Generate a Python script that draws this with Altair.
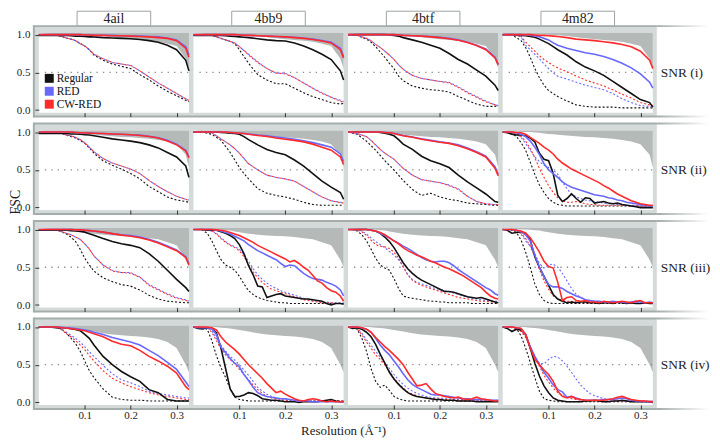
import altair as alt
import pandas as pd

SERIF = "Liberation Serif"
W, H = 151, 80
X_DOMAIN = [0.0, 0.327]
Y_DOMAIN = [-0.033, 1.02]
X_TICKS = [0.1, 0.2, 0.3]
Y_TICKS = [0.0, 0.5, 1.0]
HALF_X = [0.013, 0.327]
HALF_Y = [0.5, 0.5]

COLS = ["4ail", "4bb9", "4btf", "4m82"]
ROWS = ["SNR (i)", "SNR (ii)", "SNR (iii)", "SNR (iv)"]
METHODS = ["Regular", "RED", "CW-RED"]
COLORS = ["#111111", "#6868ff", "#ff2a2a"]
X_TITLE = "Resolution (Å⁻¹)"
Y_TITLE = "FSC"

BAND_FILL = "#d4dad9"
BAND_EDGE = "#a5adab"
BOUND_FILL = "#b5bab8"

# coarse and fine resolution grids (1/Å)
X_C = [0.0, 0.02, 0.04, 0.05, 0.06, 0.07, 0.08, 0.09, 0.10, 0.11, 0.12, 0.14, 0.16, 0.18, 0.20, 0.22, 0.24, 0.26, 0.28, 0.30, 0.32, 0.327]
X_F = [0.0, 0.01, 0.02, 0.03, 0.04, 0.05, 0.06, 0.07, 0.08, 0.09, 0.10, 0.11, 0.12, 0.13, 0.14, 0.15, 0.16, 0.17, 0.18, 0.19,
       0.20, 0.21, 0.22, 0.23, 0.24, 0.25, 0.26, 0.27, 0.28, 0.29, 0.30, 0.31, 0.32, 0.327]

# upper-bound (grey) curves per SNR level, on X_C
B_i = [1.02, 1.01, 1, 1, 1, 1, 1, 1, .995, .99, .99, .98, .965, .95, .94, .93, .92, .905, .88, .85, .68, .55]
B_ii = [1.02, 1.01, 1, 1, 1, .995, .99, .98, .975, .97, .965, .955, .945, .935, .93, .92, .91, .895, .875, .84, .70, .53]
B_iii = [1.02, 1.01, 1, 1, .995, .99, .985, .975, .965, .955, .945, .93, .92, .915, .91, .90, .885, .87, .83, .79, .60, .50]
B_iv = [1.02, 1.01, 1, .995, .99, .985, .98, .97, .96, .95, .94, .915, .90, .89, .88, .875, .86, .84, .80, .72, .50, .40]

# ---- SNR (i) ----
ail_i_reg = [.99, .99, .99, .99, .99, .985, .98, .98, .975, .97, .97, .96, .955, .95, .945, .935, .92, .90, .86, .80, .66, .52]
ail_i_red = [1, 1, 1, 1, 1, 1, 1, 1, .995, .995, .99, .99, .99, .985, .985, .98, .975, .97, .955, .93, .84, .73]
ail_i_cw = [1, 1, 1, 1, 1, 1, 1, 1, .995, .995, .99, .99, .985, .985, .98, .975, .97, .96, .95, .92, .82, .70]
ail_i_regd = [1, 1, .99, .975, .955, .94, .92, .88, .85, .80, .73, .66, .61, .58, .55, .47, .40, .32, .25, .19, .13, .11]
ail_i_redd = [1, 1, .99, .975, .955, .94, .92, .885, .85, .80, .74, .68, .63, .61, .595, .52, .44, .36, .29, .22, .15, .13]
ail_i_cwd = [1, 1, .99, .975, .955, .94, .92, .88, .85, .80, .74, .68, .63, .61, .59, .52, .44, .36, .29, .22, .15, .13]

bb9_i_reg = [.99, .99, .99, .99, .99, .985, .98, .975, .97, .965, .96, .945, .93, .92, .915, .89, .85, .80, .74, .67, .52, .40]
bb9_i_red = [1, 1, 1, 1, 1, 1, 1, 1, .995, .99, .99, .985, .98, .975, .97, .965, .955, .94, .92, .90, .82, .71]
bb9_i_cw = [1, 1, 1, 1, 1, 1, 1, 1, .995, .99, .99, .985, .98, .975, .97, .96, .95, .935, .915, .89, .80, .69]
bb9_i_regd = [1, 1, .99, .97, .95, .93, .91, .88, .80, .71, .62, .47, .40, .35, .35, .29, .23, .18, .14, .10, .08, .09]
bb9_i_redd = [1, 1, .99, .97, .95, .93, .91, .89, .84, .79, .74, .64, .55, .49, .49, .43, .36, .29, .23, .17, .13, .11]
bb9_i_cwd = [1, 1, .99, .97, .95, .93, .91, .89, .84, .79, .73, .63, .55, .49, .48, .43, .36, .29, .22, .17, .12, .10]

btf_i_reg = [1, 1, 1, 1, 1, 1, 1, .995, .99, .98, .96, .93, .90, .86, .82, .75, .67, .61, .53, .45, .33, .26]
btf_i_red = [1, 1, 1, 1, 1, 1, 1, 1, 1, .995, .99, .985, .98, .975, .965, .95, .93, .90, .86, .81, .70, .61]
btf_i_cw = [1, 1, 1, 1, 1, 1, 1, 1, 1, .995, .99, .985, .98, .97, .96, .945, .925, .895, .855, .80, .69, .60]
btf_i_regd = [1, .99, .94, .90, .84, .77, .70, .62, .55, .45, .39, .32, .29, .27, .26, .24, .18, .13, .08, .05, .05, .06]
btf_i_redd = [1, .99, .95, .92, .87, .83, .78, .73, .67, .60, .54, .46, .42, .40, .38, .37, .31, .24, .18, .12, .07, .06]
btf_i_cwd = [1, .99, .95, .92, .87, .83, .78, .73, .67, .60, .54, .46, .42, .40, .38, .36, .30, .23, .17, .11, .07, .06]

m82_i_reg = [1, 1, .99, .985, .975, .965, .94, .91, .88, .84, .80, .73, .64, .57, .52, .46, .38, .30, .22, .14, .10, .04]
m82_i_red = [1, 1, 1, .995, .99, .985, .97, .95, .93, .89, .86, .82, .79, .76, .74, .71, .67, .62, .56, .48, .37, .29]
m82_i_cw = [1, 1, 1, 1, 1, .995, .99, .99, .985, .98, .975, .96, .94, .93, .92, .905, .89, .87, .84, .78, .66, .55]
m82_i_regd = [1, 1, .92, .83, .70, .55, .43, .33, .26, .22, .18, .12, .07, .05, .04, .04, .04, .03, .03, .03, .03, .03]
m82_i_redd = [1, 1, .97, .86, .80, .74, .68, .61, .55, .49, .45, .41, .37, .33, .30, .27, .22, .15, .10, .06, .05, .04]
m82_i_cwd = [1, 1, .98, .90, .84, .78, .72, .67, .63, .59, .56, .51, .45, .40, .36, .32, .27, .21, .16, .10, .07, .06]

# ---- SNR (ii) ----
ail_ii_reg = [.98, .98, .98, .98, .98, .975, .975, .97, .965, .96, .95, .93, .91, .895, .88, .86, .83, .79, .73, .67, .55, .40]
ail_ii_red = [1, 1, 1, 1, 1, 1, .995, .99, .99, .99, .985, .98, .975, .97, .965, .96, .945, .925, .89, .84, .76, .67]
ail_ii_cw = [1, 1, 1, 1, 1, 1, .995, .99, .99, .985, .985, .98, .975, .97, .965, .955, .94, .92, .88, .83, .75, .66]
ail_ii_regd = [1, 1, .99, .98, .96, .94, .92, .89, .85, .79, .72, .62, .56, .51, .45, .38, .28, .21, .14, .10, .08, .07]
ail_ii_redd = [1, 1, .99, .98, .96, .95, .93, .90, .86, .80, .74, .65, .59, .55, .51, .45, .36, .28, .21, .15, .11, .10]
ail_ii_cwd = [1, 1, .99, .98, .96, .95, .93, .90, .86, .80, .74, .65, .59, .55, .51, .45, .36, .28, .21, .15, .11, .09]

bb9_ii_reg = [1, 1, 1, 1, .995, .99, .985, .98, .97, .94, .90, .83, .77, .73, .70, .63, .55, .45, .35, .27, .20, .11]
bb9_ii_red = [1, 1, 1, 1, 1, 1, .995, .99, .985, .98, .975, .96, .95, .935, .92, .905, .885, .86, .83, .80, .71, .61]
bb9_ii_cw = [1, 1, 1, 1, 1, 1, .995, .99, .985, .98, .97, .955, .94, .92, .905, .89, .87, .84, .80, .76, .67, .57]
bb9_ii_regd = [1, 1, .97, .93, .89, .81, .73, .63, .53, .45, .38, .25, .19, .16, .14, .11, .07, .04, .03, .03, .03, .03]
bb9_ii_redd = [1, 1, .99, .95, .91, .87, .83, .78, .72, .65, .58, .50, .43, .40, .38, .35, .28, .21, .14, .09, .07, .06]
bb9_ii_cwd = [1, 1, .99, .95, .91, .87, .83, .78, .72, .65, .58, .50, .43, .40, .38, .35, .28, .21, .14, .09, .065, .06]

btf_ii_reg = [1, 1, 1, 1, 1, .995, .985, .97, .95, .90, .84, .77, .68, .62, .58, .53, .43, .34, .26, .18, .08, .07]
btf_ii_red = [1, 1, 1, 1, 1, 1, .995, .99, .98, .97, .955, .935, .91, .89, .87, .855, .83, .79, .74, .68, .54, .44]
btf_ii_cw = [1, 1, 1, 1, 1, 1, .995, .99, .98, .965, .95, .93, .905, .885, .865, .85, .82, .78, .73, .67, .52, .42]
btf_ii_regd = [1, .97, .88, .82, .76, .69, .62, .56, .50, .43, .36, .24, .16, .19, .14, .11, .09, .06, .05, .04, .03, .03]
btf_ii_redd = [1, .98, .94, .89, .83, .77, .72, .68, .64, .58, .52, .43, .37, .35, .33, .30, .25, .15, .08, .05, .04, .04]
btf_ii_cwd = [1, .98, .94, .89, .83, .77, .72, .68, .64, .58, .52, .43, .37, .35, .33, .29, .24, .15, .08, .05, .04, .04]

m82_ii_reg = [1, .99, .97, .96, .96, .95, .92, .87, .72, .64, .62, .45, .16, .08, .12, .18, .12, .07, .13, .12,
              .06, .07, .08, .06, .05, .06, .04, .03, .02, .01, 0, 0, 0, 0]
m82_ii_red = [1, 1, 1, .99, .97, .94, .88, .80, .70, .58, .50, .45, .40, .34, .30, .27, .25, .23, .21, .19,
              .17, .16, .15, .13, .12, .10, .09, .07, .06, .05, .04, .03, .02, .02]
m82_ii_cw = [1, 1, 1, .995, .99, .97, .93, .89, .85, .80, .76, .71, .64, .59, .55, .51, .48, .45, .42, .39,
             .36, .33, .29, .26, .22, .18, .15, .12, .09, .07, .05, .04, .03, .03]
m82_ii_regd = [1, 1, .98, .94, .86, .76, .60, .44, .30, .20, .12, .07, .04, .03, .02, .02, .02, .02, .02, .02,
               .02, .02, .02, .02, .02, .02, .02, .02, .02, .02, .02, .02, .02, .02]
m82_ii_redd = [1, 1, .99, .97, .93, .85, .76, .67, .61, .56, .53, .50, .44, .34, .25, .18, .14, .12, .10, .09,
               .08, .07, .06, .05, .05, .04, .04, .03, .03, .03, .02, .02, .02, .02]
m82_ii_cwd = [1, 1, .99, .97, .94, .88, .78, .66, .52, .40, .29, .20, .13, .09, .07, .07, .08, .07, .05, .04,
              .04, .03, .03, .03, .03, .03, .03, .03, .02, .02, .02, .02, .02, .02]

# ---- SNR (iii) ----
ail_iii_reg = [.99, .99, .99, .99, .99, .985, .98, .975, .965, .945, .925, .88, .84, .81, .79, .76, .68, .58, .46, .34, .23, .18]
ail_iii_red = [1, 1, 1, 1, 1, 1, .995, .995, .99, .985, .98, .965, .945, .93, .92, .90, .87, .83, .78, .73, .64, .55]
ail_iii_cw = [1, 1, 1, 1, 1, 1, .995, .995, .99, .985, .98, .965, .945, .925, .91, .89, .86, .82, .77, .72, .63, .53]
ail_iii_regd = [1, 1, .99, .97, .94, .90, .84, .74, .62, .53, .45, .36, .31, .27, .25, .20, .13, .08, .05, .04, .03, .03]
ail_iii_redd = [1, 1, .99, .97, .95, .93, .90, .87, .81, .74, .65, .53, .46, .43, .43, .37, .27, .21, .15, .10, .07, .05]
ail_iii_cwd = [1, 1, .99, .97, .95, .93, .90, .87, .81, .74, .65, .53, .45, .43, .42, .37, .26, .20, .14, .09, .06, .05]

bb9_iii_reg = [1, 1, 1, .99, .99, .99, .97, .95, .92, .88, .80, .68, .52, .40, .25, .24, .10, .12, .14, .15,
               .12, .11, .10, .09, .08, .08, .07, .06, .05, .02, 0, .02, .02, .01]
bb9_iii_red = [1, 1, 1, 1, 1, .99, .98, .96, .94, .91, .88, .85, .80, .76, .72, .69, .66, .63, .60, .55,
               .51, .53, .52, .47, .42, .38, .35, .34, .33, .30, .28, .25, .20, .12]
bb9_iii_cw = [1, 1, 1, 1, 1, .995, .99, .98, .96, .94, .92, .89, .86, .83, .79, .76, .73, .70, .67, .64,
              .61, .57, .59, .55, .50, .46, .39, .32, .29, .23, .19, .17, .12, .05]
bb9_iii_regd = [1, 1, .99, .95, .85, .72, .60, .53, .50, .46, .38, .28, .19, .14, .10, .08, .06, .05, .04, .03,
                .03, .02, .02, .02, .02, .02, .02, .02, .02, .02, .02, .02, .02, .02]
bb9_iii_redd = [1, 1, 1, .99, .98, .95, .89, .84, .80, .77, .74, .67, .58, .48, .40, .34, .29, .25, .22, .19,
                .17, .15, .13, .11, .09, .07, .06, .05, .04, .04, .03, .03, .03, .03]
bb9_iii_cwd = [1, 1, 1, .99, .98, .94, .88, .83, .79, .76, .72, .64, .54, .44, .36, .30, .25, .21, .19, .17,
               .15, .13, .11, .09, .07, .06, .05, .04, .03, .03, .03, .02, .02, .02]

btf_iii_reg = [1, 1, 1, 1, 1, .99, .98, .95, .90, .84, .76, .66, .56, .48, .42, .37, .33, .30, .27, .24,
               .21, .18, .18, .17, .15, .13, .11, .10, .09, .10, .08, .06, .04, .03]
btf_iii_red = [1, 1, 1, 1, 1, .99, .98, .95, .92, .89, .85, .82, .78, .75, .71, .67, .63, .60, .58, .57,
               .58, .58, .56, .52, .47, .43, .39, .35, .31, .27, .23, .20, .15, .13]
btf_iii_cw = [1, 1, 1, 1, 1, .99, .98, .96, .93, .89, .85, .81, .76, .72, .69, .66, .64, .61, .58, .56,
              .53, .50, .48, .45, .42, .39, .35, .31, .27, .23, .17, .12, .09, .08]
btf_iii_regd = [1, 1, .98, .93, .85, .74, .62, .53, .49, .46, .35, .22, .12, .10, .09, .08, .07, .06, .05, .05,
                .04, .04, .03, .03, .03, .03, .03, .02, .02, .02, .02, .02, .02, .02]
btf_iii_redd = [1, 1, 1, .98, .94, .89, .84, .80, .76, .71, .66, .60, .52, .40, .34, .30, .28, .26, .24, .22,
                .21, .19, .18, .16, .14, .12, .10, .09, .08, .07, .06, .05, .05, .05]
btf_iii_cwd = [1, 1, .99, .97, .92, .86, .80, .78, .77, .75, .70, .62, .50, .40, .33, .29, .26, .24, .22, .20,
               .18, .16, .14, .12, .10, .09, .08, .07, .06, .05, .05, .04, .04, .04]

m82_iii_reg = [1, .99, .95, .96, .97, .95, .86, .64, .50, .38, .26, .14, .08, .05, .03, .04, .03, .04, .04, .03,
               .03, .02, .03, .03, .02, .04, .03, .02, .03, .02, .02, .03, .02, .02]
m82_iii_red = [1, 1, 1, .99, .97, .93, .85, .66, .50, .38, .27, .24, .24, .22, .18, .15, .12, .10, .07, .06,
               .05, .05, .04, .04, .05, .04, .04, .03, .04, .05, .04, .03, .04, .03]
m82_iii_cw = [1, 1, 1, .99, .98, .95, .89, .80, .70, .58, .51, .49, .30, .06, .10, .11, .06, .05, .06, .04,
              .04, .03, .05, .04, .03, .04, .05, .04, .03, .05, .06, .03, .03, .03]
m82_iii_regd = [1, 1, .99, .96, .86, .70, .50, .28, .14, .06, .03, .02, .02, .02, .02, .02, .02, .02, .02, .02,
                .02, .02, .02, .02, .02, .02, .02, .02, .02, .02, .02, .02, .02, .02]
m82_iii_redd = [1, 1, 1, .98, .94, .85, .78, .68, .55, .49, .53, .54, .50, .42, .32, .22, .14, .10, .07, .06,
                .05, .05, .04, .04, .04, .03, .03, .03, .03, .03, .03, .03, .03, .03]
m82_iii_cwd = [1, 1, 1, .99, .95, .88, .78, .64, .47, .32, .21, .12, .08, .06, .05, .05, .04, .04, .03, .03,
               .03, .03, .03, .03, .03, .03, .03, .03, .02, .02, .02, .02, .02, .02]

# ---- SNR (iv) ----
ail_iv_reg = [1, 1, .99, .99, .985, .975, .965, .95, .90, .85, .76, .61, .50, .41, .34, .28, .17, .13, .04, .02, .02, .02]
ail_iv_red = [1, 1, 1, .995, .99, .985, .98, .97, .96, .95, .93, .90, .86, .83, .80, .76, .69, .62, .53, .44, .27, .21]
ail_iv_cw = [1, 1, 1, .99, .985, .975, .97, .96, .95, .93, .91, .87, .81, .77, .75, .69, .61, .55, .48, .39, .21, .17]
ail_iv_regd = [1, 1, .99, .97, .92, .85, .78, .68, .55, .42, .33, .18, .07, .04, .03, .03, .02, .02, .02, .02, .02, .02]
ail_iv_redd = [1, 1, .99, .97, .93, .89, .85, .80, .74, .67, .61, .49, .38, .30, .26, .21, .15, .12, .10, .08, .06, .06]
ail_iv_cwd = [1, 1, .99, .96, .91, .87, .82, .76, .70, .62, .55, .42, .32, .26, .21, .17, .13, .10, .08, .06, .04, .04]

bb9_iv_reg = [1, .98, .975, .99, .98, .92, .72, .45, .18, .08, .08, .10, .13, .12, .09, .05, .04, .03, .03, .02,
              .01, .01, .01, 0, .01, .01, .01, .01, .02, .03, .04, .02, .01, .01]
bb9_iv_red = [1, .99, .99, .99, .98, .90, .73, .66, .58, .52, .47, .37, .29, .20, .13, .10, .08, .07, .06, .05,
              .05, .04, .03, .02, .02, .02, .01, .01, .01, .01, .01, .01, .01, .01]
bb9_iv_cw = [1, 1, 1, 1, .99, .96, .87, .80, .75, .70, .64, .57, .50, .44, .38, .32, .25, .19, .13, .15,
             .11, .08, .05, .03, .02, .04, .05, .04, .02, .01, .02, .01, .01, .01]
bb9_iv_regd = [1, 1, .99, .97, .82, .62, .46, .33, .18, .07, .04, .03, .02, .02, .02, .02, .02, .02, .02, .02,
               .02, .02, .02, .02, .02, .02, .02, .02, .02, .02, .02, .02, .02, .02]
bb9_iv_redd = [1, 1, 1, .99, .95, .85, .76, .68, .61, .56, .50, .43, .36, .28, .20, .15, .11, .08, .06, .05,
               .04, .03, .03, .02, .02, .02, .02, .02, .02, .02, .02, .02, .02, .02]
bb9_iv_cwd = [1, 1, 1, .99, .93, .82, .71, .63, .57, .51, .44, .37, .30, .23, .17, .12, .08, .06, .05, .04,
              .03, .02, .02, .02, .02, .02, .02, .02, .02, .02, .02, .02, .02, .02]

btf_iv_reg = [1, .98, .99, .97, .93, .87, .77, .64, .52, .40, .31, .24, .18, .13, .10, .08, .07, .06, .05, .04,
              .04, .03, .03, .03, .02, .02, .02, .02, .01, .01, .01, .01, .01, .01]
btf_iv_red = [1, 1, 1, .99, .97, .93, .85, .76, .69, .63, .55, .47, .38, .30, .24, .20, .17, .14, .11, .10,
              .10, .09, .08, .07, .06, .05, .05, .04, .04, .04, .04, .03, .03, .03]
btf_iv_cw = [1, 1, 1, .99, .97, .93, .86, .80, .74, .69, .63, .57, .50, .40, .31, .22, .23, .25, .18, .12,
             .10, .08, .07, .06, .07, .05, .04, .05, .07, .05, .04, .03, .02, .02]
btf_iv_regd = [1, 1, .97, .85, .68, .45, .28, .20, .23, .16, .08, .05, .03, .02, .02, .02, .02, .02, .02, .02,
               .02, .02, .02, .02, .02, .02, .02, .02, .02, .02, .02, .02, .02, .02]
btf_iv_redd = [1, 1, .98, .92, .83, .76, .68, .60, .53, .45, .37, .30, .24, .19, .15, .12, .10, .08, .07, .06,
               .06, .05, .05, .04, .04, .04, .03, .03, .03, .03, .03, .03, .03, .03]
btf_iv_cwd = [1, 1, .97, .90, .80, .72, .63, .57, .50, .41, .32, .25, .19, .14, .11, .09, .07, .06, .05, .05,
              .04, .04, .03, .03, .03, .03, .02, .02, .02, .02, .02, .02, .02, .02]

m82_iv_reg = [1, .98, .94, .97, .96, .90, .72, .52, .35, .22, .13, .06, .03, .02, .01, .01, .01, .01, .02, .02,
              .03, .02, .01, .01, .02, .02, .03, .02, .01, .01, .01, .01, .01, 0]
m82_iv_red = [1, 1, 1, .99, .98, .89, .74, .61, .50, .40, .32, .23, .17, .14, .07, .08, .06, .04, .03, .03,
              .03, .03, .04, .04, .04, .05, .06, .05, .03, .02, .02, .01, .01, .01]
m82_iv_cw = [1, 1, 1, .99, .98, .90, .72, .57, .50, .43, .37, .28, .15, .08, .06, .08, .05, .04, .03, .03,
             .03, .03, .03, .04, .05, .07, .08, .06, .04, .03, .02, .02, .01, .01]
m82_iv_regd = [1, 1, .99, .98, .88, .72, .53, .33, .15, .05, .03, .02, .01, .01, .01, .01, .01, .01, .01, .01,
               .01, .01, .01, .01, .01, .01, .01, .01, .01, .01, .01, .01, .01, .01]
m82_iv_redd = [1, 1, 1, .99, .97, .90, .70, .60, .52, .51, .57, .61, .60, .55, .48, .40, .31, .23, .17, .12,
               .09, .07, .05, .04, .04, .03, .02, .02, .02, .02, .02, .02, .02, .02]
m82_iv_cwd = [1, 1, 1, .98, .94, .86, .74, .61, .48, .36, .27, .19, .13, .09, .07, .05, .04, .03, .03, .02,
              .02, .02, .02, .02, .02, .02, .02, .02, .02, .02, .02, .02, .02, .02]

BOUNDS = [B_i, B_ii, B_iii, B_iv]
PANELS = [
    [(ail_i_reg, ail_i_red, ail_i_cw, ail_i_regd, ail_i_redd, ail_i_cwd),
     (bb9_i_reg, bb9_i_red, bb9_i_cw, bb9_i_regd, bb9_i_redd, bb9_i_cwd),
     (btf_i_reg, btf_i_red, btf_i_cw, btf_i_regd, btf_i_redd, btf_i_cwd),
     (m82_i_reg, m82_i_red, m82_i_cw, m82_i_regd, m82_i_redd, m82_i_cwd)],
    [(ail_ii_reg, ail_ii_red, ail_ii_cw, ail_ii_regd, ail_ii_redd, ail_ii_cwd),
     (bb9_ii_reg, bb9_ii_red, bb9_ii_cw, bb9_ii_regd, bb9_ii_redd, bb9_ii_cwd),
     (btf_ii_reg, btf_ii_red, btf_ii_cw, btf_ii_regd, btf_ii_redd, btf_ii_cwd),
     (m82_ii_reg, m82_ii_red, m82_ii_cw, m82_ii_regd, m82_ii_redd, m82_ii_cwd)],
    [(ail_iii_reg, ail_iii_red, ail_iii_cw, ail_iii_regd, ail_iii_redd, ail_iii_cwd),
     (bb9_iii_reg, bb9_iii_red, bb9_iii_cw, bb9_iii_regd, bb9_iii_redd, bb9_iii_cwd),
     (btf_iii_reg, btf_iii_red, btf_iii_cw, btf_iii_regd, btf_iii_redd, btf_iii_cwd),
     (m82_iii_reg, m82_iii_red, m82_iii_cw, m82_iii_regd, m82_iii_redd, m82_iii_cwd)],
    [(ail_iv_reg, ail_iv_red, ail_iv_cw, ail_iv_regd, ail_iv_redd, ail_iv_cwd),
     (bb9_iv_reg, bb9_iv_red, bb9_iv_cw, bb9_iv_regd, bb9_iv_redd, bb9_iv_cwd),
     (btf_iv_reg, btf_iv_red, btf_iv_cw, btf_iv_regd, btf_iv_redd, btf_iv_cwd),
     (m82_iv_reg, m82_iv_red, m82_iv_cw, m82_iv_regd, m82_iv_redd, m82_iv_cwd)],
]

DUMMY = pd.DataFrame({"d": [0]})
COLOR_SCALE = alt.Scale(domain=METHODS, range=COLORS)


def curve_frame(vals, method):
    if len(vals) == len(X_F):
        xs = X_F
    elif len(vals) == len(X_C):
        xs = X_C
    else:
        raise ValueError(f"bad length {len(vals)} for {method}")
    return pd.DataFrame({"x": xs, "y": vals, "method": method})


def deco_rect(x1, x2, y1, y2, **kw):
    return alt.Chart(DUMMY).mark_rect(**kw).encode(
        x=alt.value(x1), x2=alt.value(x2), y=alt.value(y1), y2=alt.value(y2))


def legend_layer():
    leg = pd.DataFrame({"method": METHODS})
    ypos = alt.Y("method:N", scale=alt.Scale(type="point", domain=METHODS, range=[45.5, 71.5], padding=0),
                 axis=None)
    sq = alt.Chart(leg).mark_square(size=81, filled=True, opacity=1).encode(
        x=alt.value(10.5), y=ypos, color=alt.Color("method:N", scale=COLOR_SCALE, legend=None))
    tx = alt.Chart(leg).mark_text(align="left", baseline="middle", font=SERIF, fontSize=11.5,
                                  color="#111", dy=0.5).encode(
        x=alt.value(18), y=ypos, text="method:N")
    return alt.layer(sq, tx)


def panel(r, c):
    curves = PANELS[r][c]
    layers = []
    top, bot = -7, H + 4
    xl = -5 if c == 0 else -2.5
    xr = W + 4 if c == 3 else W + 2.5
    # grey row band
    layers.append(deco_rect(xl, xr, top, bot, fill=BAND_FILL))
    layers.append(deco_rect(0, W, 0, H, fill="white"))
    if r == 0:
        layers.append(deco_rect(W / 2 - 37, W / 2 + 37, -22, top, fill="white",
                                stroke="#9ca2a1", strokeWidth=1))
    layers.append(deco_rect(xl, xr, top - 1, top + 1, fill=BAND_EDGE))
    layers.append(deco_rect(xl, xr, bot - 1, bot + 1, fill=BAND_EDGE))
    if c == 0:
        layers.append(deco_rect(xl - 1, xl + 1, top - 1, bot + 1, fill=BAND_EDGE))
    if c == 3:
        grad = alt.LinearGradient(gradient="linear", x1=0, x2=1, y1=0, y2=0,
                                  stops=[alt.GradientStop(color=BAND_EDGE, offset=0),
                                         alt.GradientStop(color="#ffffff", offset=1)])
        layers.append(deco_rect(xr, W + 56, top - 1, top + 1, fill=grad))
        layers.append(deco_rect(xr, W + 56, bot - 1, bot + 1, fill=grad))

    x_axis = alt.Axis(values=X_TICKS, format=".1f", labels=(r == 3), tickSize=4, domain=False,
                      grid=False, title=None, labelPadding=1, zindex=1)
    y_axis = alt.Axis(values=Y_TICKS, format=".1f", tickSize=4, domain=False, grid=False,
                      title=None, labelPadding=5, zindex=1) if c == 0 else None
    X = alt.X("x:Q", scale=alt.Scale(domain=X_DOMAIN, nice=False, zero=False), axis=x_axis)
    Y = alt.Y("y:Q", scale=alt.Scale(domain=Y_DOMAIN, nice=False, zero=False), axis=y_axis)

    bdf = pd.DataFrame({"x": X_C, "y": BOUNDS[r], "top": Y_DOMAIN[1]})
    layers.append(alt.Chart(bdf).mark_area(color=BOUND_FILL, opacity=1).encode(
        x=X, y=Y, y2=alt.Y2("top:Q")))
    hdf = pd.DataFrame({"x": HALF_X, "y": HALF_Y})
    layers.append(alt.Chart(hdf).mark_line(color="#8a8a8a", strokeDash=[1.3, 5.2], strokeWidth=1.3).encode(
        x=X, y=Y))

    color = alt.Color("method:N", scale=COLOR_SCALE, legend=None)
    offsets = [0, 0, 2]
    for k, m in enumerate(METHODS):
        layers.append(alt.Chart(curve_frame(curves[3 + k], m)).mark_line(
            strokeWidth=1.1, strokeDash=[2, 2], strokeDashOffset=offsets[k]).encode(
            x=X, y=Y, color=color))
    for k, m in enumerate(METHODS):
        layers.append(alt.Chart(curve_frame(curves[k], m)).mark_line(strokeWidth=1.6).encode(
            x=X, y=Y, color=color))

    if r == 0:
        layers.append(alt.Chart(DUMMY).mark_text(text=COLS[c], font=SERIF, fontSize=14,
                                                 color="#222", baseline="middle").encode(
            x=alt.value(W / 2), y=alt.value(-14)))
    if c == 3:
        layers.append(alt.Chart(DUMMY).mark_text(text=ROWS[r], font=SERIF, fontSize=13.5, color="#222",
                                                 align="left", baseline="middle").encode(
            x=alt.value(W + 8), y=alt.value(H / 2)))
    if r == 1 and c == 0:
        layers.append(alt.Chart(DUMMY).mark_text(text=Y_TITLE, font=SERIF, fontSize=14, color="#222",
                                                 angle=270, baseline="middle").encode(
            x=alt.value(-23), y=alt.value(72)))
    if r == 3 and c == 1:
        layers.append(alt.Chart(DUMMY).mark_text(text=X_TITLE, font=SERIF, fontSize=13, color="#222",
                                                 baseline="alphabetic").encode(
            x=alt.value(151), y=alt.value(110)))

    main = alt.layer(*layers)
    if r == 0 and c == 0:
        main = alt.layer(main, legend_layer()).resolve_scale(y="independent")
    return main.properties(width=W, height=H)


panels = [panel(r, c) for r in range(4) for c in range(4)]

chart = alt.concat(*panels, columns=4, spacing={"row": 18, "column": 4.5}).properties(
    bounds="flush", padding=0
).resolve_scale(color="independent").configure_view(
    stroke="#1c1c1c", strokeWidth=1.4
).configure_axis(
    labelFont=SERIF, labelFontSize=11, labelColor="#222", tickColor="#333", tickWidth=1
)

chart.save("out.html", embed_options={"renderer": "svg", "actions": False})
